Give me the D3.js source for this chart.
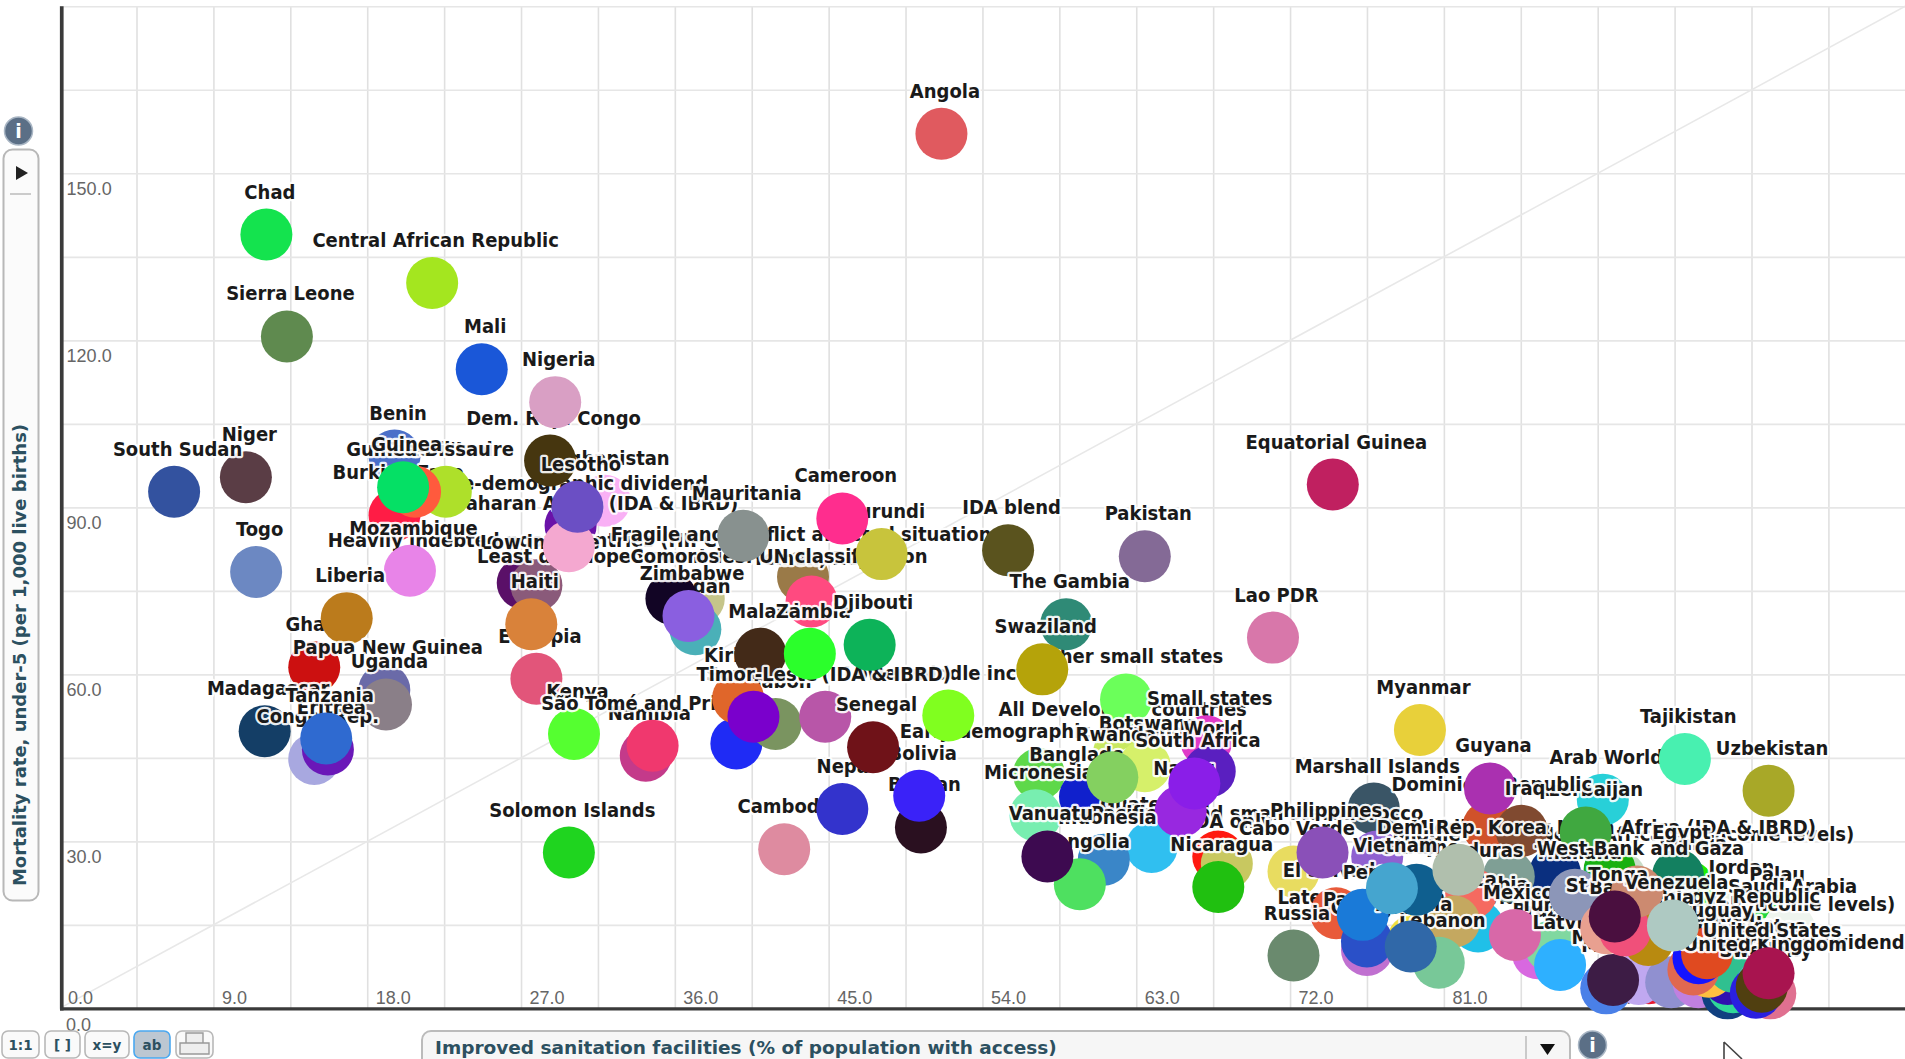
<!DOCTYPE html>
<html><head><meta charset="utf-8"><style>html,body{margin:0;padding:0;background:#fff;overflow:hidden}svg{display:block}</style>
<script src="https://cdn.jsdelivr.net/npm/d3@7"></script></head><body><svg id="c" width="1905" height="1059"></svg>
<script>
const names=[
"Angola","Chad","Central African Republic","Sierra Leone","Mali","Benin","Niger","South Sudan","Togo","Afghanistan",
"Pre-demographic dividend","Burkina Faso","Heavily indebted poor countries (HIPC)","Low income","Fragile and conflict affected situations","Yemen, Rep.","Least developed countries: UN classification","Dem. Rep. Congo","Nigeria","Sub-Saharan Africa (IDA & IBRD)",
"Lesotho","Côte d'Ivoire","Guinea-Bissau","Guinea","Mozambique","Ethiopia","Haiti","Ghana","Liberia","Papua New Guinea",
"Uganda","Madagascar","Congo, Rep.","Eritrea","Tanzania","Kenya","India","Namibia","São Tomé and Principe","Sudan",
"Comoros","Zimbabwe","Solomon Islands","Cambodia","Nepal","Bhutan","Bolivia","Gabon","Kiribati","Mauritania",
"Early-demographic dividend","Lower middle income","South Asia (IDA & IBRD)","Senegal","Burundi","Cameroon","Malawi","Timor-Leste","Zambia","Djibouti",
"IDA blend","Pakistan","All Developing countries","Other small states","The Gambia","Swaziland","Small states","Bangladesh","Botswana","Micronesia",
"Guatemala","Pacific island small states","IDA only","Rwanda","World","Nauru","South Africa","Indonesia","Mongolia","Vanuatu",
"Nicaragua","Lao PDR","Equatorial Guinea","Myanmar","Marshall Islands","Morocco","Cabo Verde","Late-demographic dividend","El Salvador","Philippines",
"Sri Lanka","Ecuador","Middle East & North Africa (all income levels)","Middle East & North Africa (IDA & IBRD)","Tunisia","Egypt","Arab World","Azerbaijan","Dominican Republic","Guyana",
"Tajikistan","Uzbekistan","Iraq","Colombia","Honduras","Jamaica","Lebanon","Georgia","Paraguay","Peru",
"Albania","Russia","Ukraine","Vietnam","Dem. Rep. Korea","Brazil","Turkey","Mexico","Latvia","Jordan",
"Palau","Saudi Arabia","North America (all income levels)","Kyrgyz Republic","Malta","Israel","Cuba","Cyprus","Belarus","Maldives",
"Japan","Finland","Australia","Singapore","Canada","United Arab Emirates","Costa Rica","Uruguay","Norway","Post-demographic dividend",
"Sweden","United Kingdom","United States","Thailand","Armenia","St. Lucia","Bahrain","West Bank and Gaza","Tonga","Venezuela"];
const sanitation=[
51.6,12.1,21.8,13.3,24.7,19.6,10.9,6.7,11.5,31.9,
29.9,19.6,27.1,27.9,43.5,44.0,37.4,28.7,29.0,29.8,
30.3,22.6,20.8,20.1,20.5,27.9,27.6,14.9,16.8,19.0,
19.1,12.0,14.9,15.7,15.6,30.1,39.6,34.3,34.7,37.2,
35.8,36.8,29.8,42.4,45.8,50.4,50.3,41.9,39.7,40.0,
57.3,52.0,44.8,47.6,48.1,45.8,41.0,40.6,43.9,47.4,
55.5,63.5,62.0,62.4,58.9,57.5,67.1,60.0,63.5,57.1,
63.9,67.8,68.3,61.6,67.3,65.6,66.4,61.1,59.7,57.8,
67.8,71.0,74.5,79.6,76.9,77.1,72.2,79.2,74.7,73.9,
87.5,84.8,91.3,90.7,95.3,94.7,90.3,89.3,83.6,83.7,
95.1,100.0,85.55,83.0,82.6,81.6,80.7,76.5,76.5,76.25,
79.06,72.2,79.4,77.96,81.85,86.5,87.25,85.16,87.8,98.2,
100.3,101.2,97.3,98.07,90.5,93.0,92.4,94.3,95.9,90.9,
97.6,97.93,97.6,96.5,97.93,95.6,95.9,96.4,100.1,99.6,
99.26,99.6,100.0,88.67,92.96,90.5,91.6,92.3,91.0,94.4];
const mortality=[
157.1,139.0,130.3,120.7,114.8,99.3,95.4,92.8,78.4,91.2,
86.7,88.6,76.4,76.0,77.5,73.1,73.6,98.4,108.9,83.0,
90.1,92.8,92.8,93.6,78.6,59.2,69.0,61.3,70.1,57.2,
54.6,49.8,44.8,46.5,48.5,49.3,47.6,45.4,47.2,68.1,
73.6,70.5,28.0,28.6,35.8,32.5,38.2,51.1,55.7,84.9,
42.1,52.6,52.4,46.9,81.6,88.0,63.7,52.4,63.7,65.3,
82.3,81.2,46.0,55.5,69.0,60.9,48.0,38.0,43.5,34.7,
29.0,27.3,26.0,41.5,42.6,35.4,40.4,26.7,22.3,27.3,
21.8,66.6,94.1,50.0,35.9,27.3,24.6,12.2,17.1,28.0,
24.3,23.7,23.6,24.9,21.9,23.9,37.5,31.6,32.6,39.5,
44.8,39.1,31.9,14.7,20.7,15.6,8.2,10.5,12.0,16.8,
11.1,9.5,21.3,21.6,24.9,9.9,11.1,13.2,7.8,17.6,
16.5,14.3,11.0,12.5,3.6,5.4,5.3,4.7,4.7,5.1,
2.7,3.8,5.3,6.6,7.5,7.0,9.0,9.9,2.7,4.2,
2.8,3.9,6.3,20.4,12.3,14.4,14.0,21.0,16.5,14.9];
const colors=[
"#e05a5f","#14e34e","#a4e61f","#5f8a4f","#1a57d8","#4a6fc9","#5a3d45","#33529f","#6c88c2","#f9b0f5",
"#6a12a8","#ff1c45","#5a1068","#8a5a7a","#9a7a48","#ff4a80","#c5c58a","#46360f","#d99fc4","#f4a8d0",
"#6b4fc4","#aee02a","#ff5a3d","#05e065","#e884e8","#e2557a","#d9823a","#cc1010","#bb7b1c","#6a6aa8",
"#8a7f88","#143e66","#a8a8e0","#6a18b8","#2f6ad0","#55ff30","#1f2bf5","#c43a8a","#f0386e","#4ab0b8",
"#120525","#8a5fe0","#1fd41f","#de8ba0","#3333cc","#2a1020","#3a22f8","#7a9460","#e0662a","#88918f",
"#5ed84a","#80ff1f","#b856a8","#6f1218","#c8c43c","#ff2d8e","#432a18","#7a00cc","#2bff2b","#0db359",
"#5a531e","#846a96","#c8e860","#6bff5a","#2f8a76","#b5a30a","#e03ac8","#1020cc","#d6f06a","#78eeb0",
"#30bff0","#ff1a10","#c8c860","#84d060","#5a1fc0","#9828e0","#8a1ee8","#3a86c8","#4ee060","#3d0a50",
"#20c010","#d877aa","#c02060","#e8d03a","#3a5566","#8f60d0","#e8dc60","#f0e040","#e85a3a","#8a50b8",
"#0a2f7f","#7f9f95","#c8dcc8","#18b010","#22f000","#138060","#28d0d8","#40a840","#d0522a","#aa30b0",
"#48f0b0","#a8a828","#804a30","#20c0e8","#f56a60","#c4a860","#78c898","#c070d0","#2a50c8","#1a7ad8",
"#3068a8","#6a8a6e","#0f5f8f","#45a5cf","#b0bfad","#d868e0","#80d8a0","#d868a8","#2eb0ff","#e8f0e0",
"#20d840","#eef4ee","#d8ecd8","#e4e4f0","#4a80e8","#e81a30","#c0a8f0","#9090d0","#c080e0","#3d1c45",
"#104080","#2fd898","#3010b0","#ffc040","#30c090","#e06850","#1414ff","#e04a20","#e07090","#58b0b8",
"#2a20e0","#503f10","#a8144f","#8c96b8","#b88a10","#e8a090","#f0507a","#cc8a70","#4a0f3f","#aec9c2"];
const xTicks=d3.range(0,100,9), yTicks=d3.range(30,180,30);
const xGrid=d3.range(0,108,4.5), yGrid=d3.range(0,181,15);
const xTitle="Improved sanitation facilities (% of population with access)";
const yTitle="Mortality rate, under-5 (per 1,000 live births)";
const buttons=["1:1","[ ]","x=y","ab"];

const svg=d3.select("#c");
const x=d3.scaleLinear().domain([0,108]).range([59.6,1905.3]);
const y=d3.scaleLinear().domain([0,180]).range([1008.4,6.3]);
const plotH=y(0)-y(180), plotW=x(108)-x(0);
const TICK="'Liberation Sans',Arial,sans-serif", UI="'DejaVu Sans',Verdana,sans-serif";

svg.append("g").attr("transform",`translate(0,${y(0)})`)
 .call(d3.axisBottom(x).tickValues(xGrid).tickSize(-plotH).tickFormat(""))
 .call(g=>{g.select(".domain").remove();g.selectAll("line").attr("stroke","#e0e0e0").attr("stroke-width",1.6)});
svg.append("g").attr("transform",`translate(${x(0)},0)`)
 .call(d3.axisLeft(y).tickValues(yGrid).tickSize(-plotW).tickFormat(""))
 .call(g=>{g.select(".domain").remove();g.selectAll("line").attr("stroke","#e6e6e6").attr("stroke-width",1.6)});
svg.append("line").attr("x1",x(0)).attr("y1",y(0)).attr("x2",x(108)).attr("y2",y(180)).attr("stroke","#e8e8e8").attr("stroke-width",1.6);

svg.append("g").attr("transform",`translate(0,${y(0)})`)
 .call(d3.axisBottom(x).tickValues(xTicks).tickSize(0).tickFormat(d3.format(".1f")))
 .call(g=>{g.select(".domain").remove();g.selectAll("text").attr("font-family",TICK).attr("font-size",18).attr("fill","#666")
   .attr("text-anchor","start").attr("dx",8).attr("y",-4).attr("dy",0)});
svg.append("g").attr("transform",`translate(${x(0)},0)`)
 .call(d3.axisLeft(y).tickValues(yTicks).tickSize(0).tickFormat(d3.format(".1f")))
 .call(g=>{g.select(".domain").remove();g.selectAll("text").attr("font-family",TICK).attr("font-size",18).attr("fill","#666")
   .attr("text-anchor","start").attr("x",7).attr("dy",21)});
svg.append("text").attr("x",66).attr("y",1031).text(d3.format(".1f")(0)).attr("font-family",TICK).attr("font-size",18).attr("fill","#666");

svg.append("line").attr("x1",61.8).attr("x2",61.8).attr("y1",y(180)).attr("y2",y(0)+2).attr("stroke","#3a3a3a").attr("stroke-width",3.6);
svg.append("line").attr("x1",60).attr("x2",1905).attr("y1",y(0)+.4).attr("y2",y(0)+.4).attr("stroke","#3a3a3a").attr("stroke-width",3.2);

const pts=svg.append("g").selectAll("g").data(names.map((n,i)=>i)).join("g")
 .attr("transform",i=>`translate(${x(sanitation[i])},${y(mortality[i])})`);
pts.append("circle").attr("r",26).attr("fill",i=>colors[i]);
pts.append("text").text(i=>names[i]).attr("x",3.5).attr("y",-36).attr("text-anchor","middle")
 .attr("font-family","'DejaVu Sans Condensed','DejaVu Sans',sans-serif").attr("font-size",20).attr("font-weight",700).attr("fill","#1a1a1a")
 .attr("stroke","#fff").attr("stroke-width",4.5).attr("stroke-opacity",.92).attr("stroke-linejoin","round").attr("paint-order","stroke");

function info(cx,cy){const g=svg.append("g").attr("transform",`translate(${cx},${cy})`);
 g.append("circle").attr("r",14).attr("fill","#5b6f86").attr("stroke","#a9b6c4").attr("stroke-width",1.5);
 g.append("text").text("i").attr("text-anchor","middle").attr("y",7).attr("font-family",UI).attr("font-weight",700).attr("font-size",19).attr("fill","#fff");}
info(18.5,131);
svg.append("rect").attr("x",3.5).attr("y",149.5).attr("width",35).attr("height",751).attr("rx",9).attr("fill","#fbfbfb").attr("stroke","#b8b8b8").attr("stroke-width",2);
svg.append("path").attr("d","M16,166 L28,173 L16,180 Z").attr("fill","#222");
svg.append("line").attr("x1",10).attr("x2",31).attr("y1",194).attr("y2",194).attr("stroke","#bbb").attr("stroke-width",1.5);
svg.append("text").text(yTitle).attr("transform","translate(26,655) rotate(-90)").attr("text-anchor","middle")
 .attr("font-family",UI).attr("font-weight",700).attr("font-size",18).attr("fill","#2c5060");

const bx=[[2,37],[45,35],[85,44],[134,36]];
buttons.forEach((b,i)=>{const on=b==="ab";
 svg.append("rect").attr("x",bx[i][0]).attr("y",1031).attr("width",bx[i][1]).attr("height",27).attr("rx",6)
  .attr("fill",on?"#bcc7d2":"#fafafa").attr("stroke",on?"#4aa8f0":"#b8b8b8").attr("stroke-width",1.6);
 svg.append("text").text(b).attr("x",bx[i][0]+bx[i][1]/2).attr("y",1050).attr("text-anchor","middle")
  .attr("font-family",UI).attr("font-weight",700).attr("font-size",13.5).attr("fill","#2c5060");});
svg.append("rect").attr("x",176).attr("y",1031).attr("width",37).attr("height",27).attr("rx",6).attr("fill","#fafafa").attr("stroke","#b8b8b8").attr("stroke-width",1.6);
svg.append("path").attr("d","M186,1033 h17 v10 h-17 Z M180,1043 h29 v11 h-29 Z").attr("fill","#eee").attr("stroke","#999").attr("stroke-width",1.4);

svg.append("rect").attr("x",422).attr("y",1031).attr("width",1148).attr("height",40).attr("rx",9).attr("fill","#f6f6f6").attr("stroke","#bbb").attr("stroke-width",2);
svg.append("line").attr("x1",1526).attr("x2",1526).attr("y1",1036).attr("y2",1059).attr("stroke","#bbb").attr("stroke-width",1.5);
svg.append("path").attr("d","M1540,1044 h15 l-7.5,11 Z").attr("fill","#111");
svg.append("text").text(xTitle).attr("x",435).attr("y",1054).attr("font-family",UI).attr("font-weight",700).attr("font-size",18.5).attr("fill","#2c5060");
info(1592.5,1045);
svg.append("path").attr("d","M1724,1042 L1724,1059 M1724,1042 L1742,1059").attr("fill","none").attr("stroke","#444").attr("stroke-width",1.6);
</script></body></html>
